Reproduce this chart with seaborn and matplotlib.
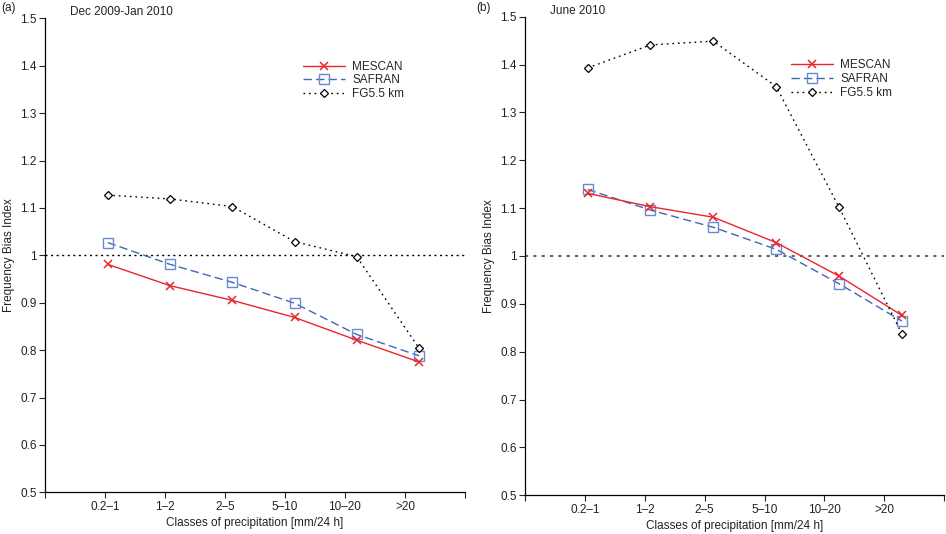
import matplotlib
matplotlib.use("Agg")
import matplotlib.pyplot as plt
import seaborn as sns
import numpy as np
import pandas as pd

sns.set_style("ticks")
plt.rcParams['font.family'] = ['Liberation Sans', 'DejaVu Sans']

classes = ["0.2\u20131", "1\u20132", "2\u20135", "5\u201310", "10\u201320", ">20"]

mescan_a = [0.981, 0.936, 0.905, 0.869, 0.821, 0.775]
safran_a = [1.027, 0.981, 0.943, 0.899, 0.833, 0.788]
fg_a = [1.127, 1.119, 1.103, 1.029, 0.997, 0.804]

mescan_b = [1.131, 1.103, 1.081, 1.028, 0.958, 0.876]
safran_b = [1.139, 1.096, 1.060, 1.014, 0.942, 0.864]
fg_b = [1.393, 1.441, 1.449, 1.354, 1.102, 0.837]

panels = [
    dict(tag="(a)", title="Dec 2009-Jan 2010", m=mescan_a, s=safran_a, f=fg_a,
         rect=[0.0476, 0.078, 0.4439, 0.8877], step=1.038, refcol="black", reflw=1.0,
         tagx=0.001, legx=0.6),
    dict(tag="(b)", title="June 2010", m=mescan_b, s=safran_b, f=fg_b,
         rect=[0.555, 0.0725, 0.443, 0.8962], step=1.05, refcol="#666666", reflw=1.5,
         tagx=0.503, legx=0.62),
]

RED = "#e8262c"
BLUE = "#4166b8"
BLUE_M = "#6a8ad0"

fig = plt.figure(figsize=(9.46, 5.34), dpi=100)
fs = 8.5

for p in panels:
    ax = fig.add_axes(p["rect"])
    xpos = 1.045 + np.arange(len(classes)) * p["step"]
    ax.axhline(1.0, color=p["refcol"], lw=p["reflw"], ls=(0, (1.5, 2.5)), zorder=1)
    sns.lineplot(x=xpos, y=p["m"], ax=ax, color=RED, lw=1.0, marker="x",
                 markersize=6, markeredgewidth=1.1, markeredgecolor=RED,
                 label="MESCAN", zorder=4)
    sns.lineplot(x=xpos, y=p["s"], ax=ax, color=BLUE, lw=1.0, dashes=(6, 3),
                 marker="s", markersize=6.5, markerfacecolor="none",
                 markeredgecolor=BLUE_M, markeredgewidth=1.0, label="SAFRAN", zorder=3)
    sns.lineplot(x=xpos, y=p["f"], ax=ax, color="black", lw=1.0, dashes=(1.2, 2.8),
                 marker="D", markersize=4, markerfacecolor="white",
                 markeredgecolor="black", markeredgewidth=0.9, label="FG5.5 km", zorder=5)
    ax.set_xlim(0, 7)
    ax.set_ylim(0.5, 1.5)
    ax.set_xticks(range(0, 8))
    ax.set_xticklabels([""] + classes + [""], fontsize=fs, color="#222222")
    yt = np.round(np.arange(0.5, 1.501, 0.1), 1)
    ax.set_yticks(yt)
    ax.set_yticklabels([("%g" % v) for v in yt], fontsize=fs, color="#222222")
    ax.tick_params(direction="out", length=4, width=0.8, pad=2)
    for side in ["top", "right"]:
        ax.spines[side].set_visible(False)
    for side in ["left", "bottom"]:
        ax.spines[side].set_linewidth(0.9)
        ax.spines[side].set_color("black")
    ax.set_xlabel("Classes of precipitation [mm/24 h]", fontsize=fs, color="#222222", labelpad=3)
    ax.set_ylabel("Frequency Bias Index", fontsize=fs, color="#222222", labelpad=4)
    ax.text(0.06, 1.0, p["title"], transform=ax.transAxes, fontsize=fs,
            ha="left", va="bottom", color="#222222")
    fig.text(p["tagx"], 0.997, p["tag"], fontsize=fs, ha="left", va="top", color="#222222")
    leg = ax.legend(loc="upper left", bbox_to_anchor=(p["legx"], 0.923), frameon=False,
                    fontsize=fs, handlelength=3.6, handletextpad=0.6,
                    labelspacing=0.15, borderpad=0)

fig.savefig("out.png", dpi=100)
